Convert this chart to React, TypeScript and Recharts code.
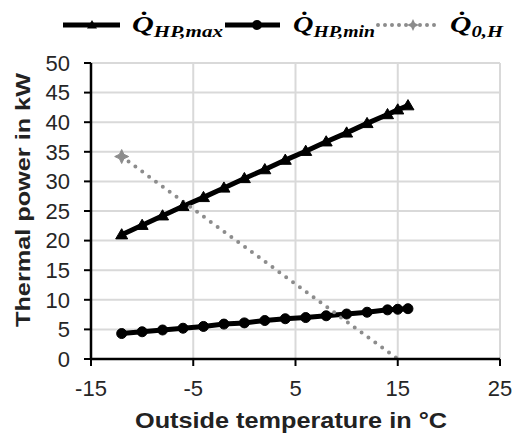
import { LineChart, Line, XAxis, YAxis, CartesianGrid, Legend } from 'recharts';

const tempHP = [-12, -10, -8, -6, -4, -2, 0, 2, 4, 6, 8, 10, 12, 14, 15, 16];
const qHPmax = [21.0, 22.6, 24.2, 25.8, 27.3, 28.9, 30.5, 32.0, 33.6, 35.1, 36.7, 38.2, 39.8, 41.3, 42.1, 42.8];
const qHPmin = [4.3, 4.6, 4.9, 5.2, 5.5, 5.9, 6.1, 6.5, 6.8, 7.0, 7.3, 7.6, 7.9, 8.3, 8.4, 8.5];
const temp0H = [-12, 15];
const q0H = [34.2, 0];

const xTicks = [-15, -5, 5, 15, 25];
const yTicks = [0, 5, 10, 15, 20, 25, 30, 35, 40, 45, 50];

const maxData = tempHP.map((t, i) => ({ t, v: qHPmax[i] }));
const minData = tempHP.map((t, i) => ({ t, v: qHPmin[i] }));
const heatData = temp0H.map((t, i) => ({ t, v: q0H[i] }));

const GREY = '#8c8c8c';

const triangle = (cx: number, cy: number, s: number) =>
  `${cx},${cy - s} ${cx - s},${cy + s * 0.7} ${cx + s},${cy + s * 0.7}`;

const star = (cx: number, cy: number, s: number) => {
  const pts: string[] = [];
  for (let k = 0; k < 8; k++) {
    const r = k % 2 === 0 ? s : s * 0.45;
    const a = (Math.PI / 4) * k;
    pts.push(`${cx + r * Math.sin(a)},${cy - r * Math.cos(a)}`);
  }
  return pts.join(' ');
};

const TriangleDot = (props: any) => {
  const { cx, cy, index } = props;
  return <polygon key={`tri-${index}`} points={triangle(cx, cy, 6)} fill="#000" stroke="#000" strokeWidth={1} />;
};

const StarDot = (props: any) => {
  const { cx, cy, index } = props;
  if (index !== 0) return <g key={`st-${index}`} />;
  return <polygon key={`st-${index}`} points={star(cx, cy, 7)} fill={GREY} stroke={GREY} strokeWidth={1} />;
};

const legendItems = [
  { x1: 63, x2: 120, mx: 92, kind: 'tri', tx: 132, tw: 91, sub: 'HP,max' },
  { x1: 225, x2: 280, mx: 257, kind: 'circle', tx: 293, tw: 82, sub: 'HP,min' },
  { x1: 378, x2: 440, mx: 413, kind: 'star', tx: 450, tw: 53, sub: '0,H' },
];

const renderLegend = () => (
  <svg width={514} height={45}>
    {legendItems.map((it) => (
      <g key={it.sub}>
        {it.kind === 'star' ? (
          <line x1={it.x1} y1={25} x2={it.x2} y2={25} stroke={GREY} strokeWidth={4} strokeDasharray="0 7" strokeLinecap="round" />
        ) : (
          <line x1={it.x1} y1={25} x2={it.x2} y2={25} stroke="#000" strokeWidth={5} />
        )}
        {it.kind === 'tri' && <polygon points={triangle(it.mx, 25, 5)} fill="#000" />}
        {it.kind === 'circle' && <circle cx={it.mx} cy={25} r={5} fill="#000" />}
        {it.kind === 'star' && <polygon points={star(it.mx, 25, 6)} fill={GREY} />}
        <text
          x={it.tx}
          y={32}
          textLength={it.tw}
          lengthAdjust="spacingAndGlyphs"
          fontFamily="'Liberation Serif', serif"
          fontWeight="bold"
          fontStyle="italic"
          fontSize={23}
          fill="#000"
        >
          {'Q\u0307'}
          <tspan fontSize={16} dy={5}>
            {it.sub}
          </tspan>
        </text>
      </g>
    ))}
  </svg>
);

const tickStyle = { fontSize: 22, fill: '#262626', fontFamily: "'Liberation Sans', Arial, sans-serif" };

export default function App() {
  return (
    <div style={{ position: 'absolute', left: 0, top: 0, width: 514, height: 433, background: '#fff' }}>
      <LineChart width={514} height={433} margin={{ top: 63, right: 14, bottom: 0, left: 0 }}>
        <CartesianGrid stroke="#d9d9d9" strokeWidth={2} />
        <XAxis
          type="number"
          dataKey="t"
          domain={[-15, 25]}
          ticks={xTicks}
          interval={0}
          height={74}
          tick={tickStyle}
          tickSize={7}
          tickMargin={14}
          axisLine={{ stroke: '#000', strokeWidth: 2.5 }}
          tickLine={{ stroke: '#000', strokeWidth: 2 }}
          label={{
            content: () => (
              <text
                x={291}
                y={428}
                textAnchor="middle"
                textLength={312}
                lengthAdjust="spacingAndGlyphs"
                fontFamily="'Liberation Sans', Arial, sans-serif"
                fontWeight="bold"
                fontSize={22}
                fill="#222"
              >
                Outside temperature in °C
              </text>
            ),
          }}
        />
        <YAxis
          type="number"
          domain={[0, 50]}
          ticks={yTicks}
          interval={0}
          width={91}
          tick={tickStyle}
          tickSize={7}
          tickMargin={14}
          axisLine={{ stroke: '#000', strokeWidth: 2.5 }}
          tickLine={{ stroke: '#000', strokeWidth: 2 }}
          label={{
            content: () => (
              <text
                x={30}
                y={200}
                transform="rotate(-90 30 200)"
                textAnchor="middle"
                textLength={254}
                lengthAdjust="spacingAndGlyphs"
                fontFamily="'Liberation Sans', Arial, sans-serif"
                fontWeight="bold"
                fontSize={21}
                fill="#222"
              >
                Thermal power in kW
              </text>
            ),
          }}
        />
        <Legend
          layout="horizontal"
          verticalAlign="middle"
          align="center"
          content={renderLegend}
          wrapperStyle={{ top: 0, left: 0, width: 514, height: 45 }}
        />
        <Line
          data={maxData}
          dataKey="v"
          name="max"
          type="linear"
          stroke="#000"
          strokeWidth={5}
          dot={TriangleDot}
          activeDot={false}
          isAnimationActive={false}
        />
        <Line
          data={minData}
          dataKey="v"
          name="min"
          type="linear"
          stroke="#000"
          strokeWidth={5}
          dot={{ r: 5, fill: '#000', stroke: '#000', strokeWidth: 1 }}
          activeDot={false}
          isAnimationActive={false}
        />
        <Line
          data={heatData}
          dataKey="v"
          name="heat"
          type="linear"
          stroke={GREY}
          strokeWidth={4}
          strokeDasharray="0 8.5"
          strokeLinecap="round"
          dot={StarDot}
          activeDot={false}
          isAnimationActive={false}
        />
      </LineChart>
    </div>
  );
}
